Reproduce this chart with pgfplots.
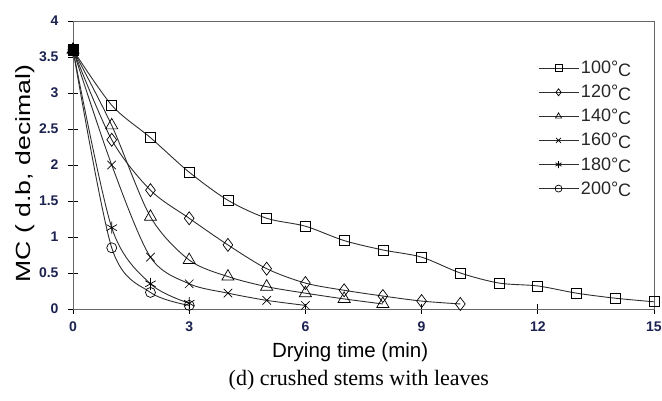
\documentclass[border=0pt]{standalone}
\usepackage{pgfplots}
\pgfplotsset{compat=1.18}
\usepackage{fontspec}
\setmainfont{Liberation Sans}
\newfontfamily\capfont{Liberation Serif}
\definecolor{tickblue}{HTML}{1B2250}
\definecolor{lineGray}{HTML}{2E2E2E}

\newcommand{\degC}{\textdegree\raisebox{-0.3ex}{C}}

\begin{document}
\begin{tikzpicture}
\useasboundingbox (-73pt,-92pt) rectangle (589pt,309pt);
\begin{axis}[
  at={(0,0)}, anchor=south west,
  scale only axis, width=581pt, height=288pt,
  xmin=0, xmax=15, ymin=0, ymax=4,
  xtick={0,3,6,9,12,15}, xticklabels={0,3,6,9,12,15},
  ytick={0,0.5,1,1.5,2,2.5,3,3.5,4},
  yticklabels={0,0.5,1,1.5,2,2.5,3,3.5,4},
  tick label style={font=\fontsize{14}{14}\selectfont\bfseries, text=tickblue},
  yticklabel style={xshift=-6pt},
  xticklabel style={yshift=-4pt},
  tick align=center, major tick length=10pt,
  xtick pos=bottom, ytick pos=left,
  axis line style={draw=gray!80!black, line width=0.8pt},
  tick style={draw=black, line width=0.8pt},
  xlabel={Drying time (min)},
  ylabel={MC ( d.b, decimal)},
  label style={font=\fontsize{20.5}{20.5}\selectfont},
  xlabel style={at={(rel axis cs:0.477,0)}, anchor=north, yshift=-30pt},
  ylabel style={at={(rel axis cs:0,0.47)}, anchor=south, yshift=35pt, xscale=1.3},
  drying/.style={draw=lineGray, line width=0.9pt, smooth, tension=0.5,
    mark options={draw=black, solid, fill=white, line width=0.7pt}},
  legend style={draw=none, fill=none, at={(rel axis cs:0.795,0.875)}, anchor=north west,
    font=\fontsize{18}{18}\selectfont, row sep=6pt, text=black!85},
  legend cell align=left,
  legend image code/.code={%
    \draw[mark repeat=2, mark phase=2, mark size=3.5pt]
      plot coordinates {(0pt,0pt) (20pt,0pt) (40pt,0pt)};},
  clip=false
]
\addplot[drying, mark=square, mark size=5pt] coordinates {
(0,3.6) (1,2.83) (2,2.38) (3,1.90) (4,1.51) (5,1.26) (6,1.15) (7,0.95)
(8,0.82) (9,0.72) (10,0.50) (11,0.36) (12,0.32) (13,0.22) (14,0.15) (15,0.10)};
\addlegendentry{100\degC}
\addplot[drying, mark=diamond, mark size=6.5pt] coordinates {
(0,3.6) (1,2.35) (2,1.65) (3,1.26) (4,0.89) (5,0.56) (6,0.36) (7,0.26)
(8,0.18) (9,0.11) (10,0.07)};
\addlegendentry{120\degC}
\addplot[drying, mark=triangle, mark size=7pt] coordinates {
(0,3.6) (1,2.55) (2,1.28) (3,0.68) (4,0.45) (5,0.31) (6,0.22) (7,0.14) (8,0.07)};
\addlegendentry{140\degC}
\addplot[drying, mark=x, mark size=6pt] coordinates {
(0,3.6) (1,2.00) (2,0.72) (3,0.35) (4,0.22) (5,0.12) (6,0.05)};
\addlegendentry{160\degC}
\addplot[drying, mark=asterisk, mark size=6pt] coordinates {
(0,3.6) (1,1.13) (2,0.35) (3,0.08)};
\addlegendentry{180\degC}
\addplot[drying, mark=o, mark size=5pt] coordinates {
(0,3.6) (1,0.85) (2,0.23) (3,0.05)};
\addlegendentry{200\degC}
\addplot[only marks, mark=square*, mark size=5pt, mark options={fill=black, draw=black}, forget plot]
  coordinates {(0,3.6)};
\node[font=\capfont\fontsize{22}{22}\selectfont, anchor=center]
  at (rel axis cs:0.492,0) [yshift=-71pt] {(d) crushed stems with leaves};
\end{axis}
\end{tikzpicture}
\end{document}
